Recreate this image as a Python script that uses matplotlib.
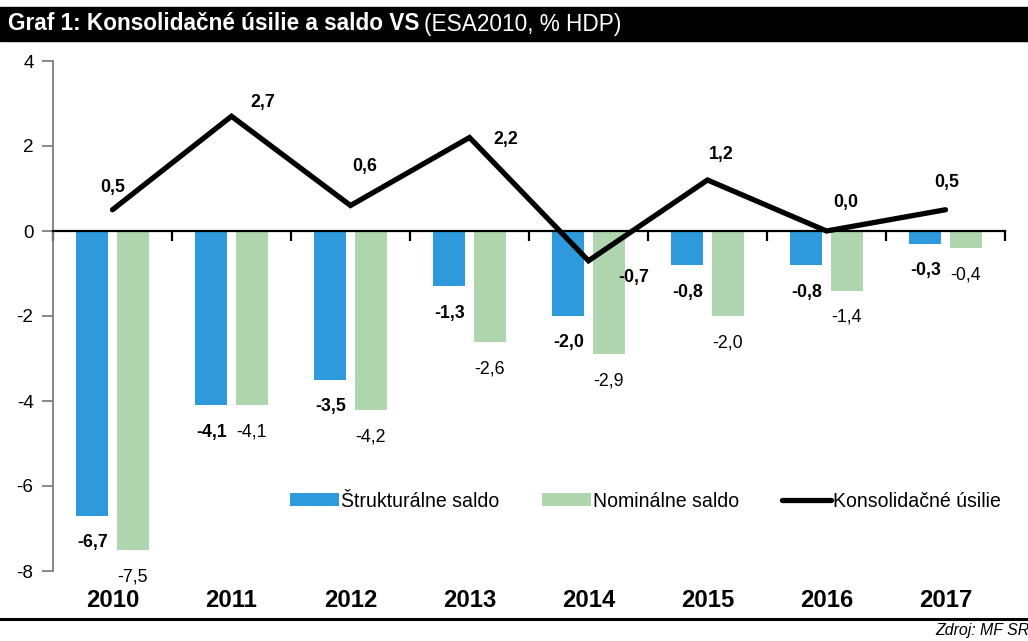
import numpy as np
import matplotlib
matplotlib.use('Agg')
from matplotlib import pyplot as plt
from matplotlib import font_manager
from matplotlib.patches import Rectangle
import matplotlib.transforms as mtransforms

years = ['2010', '2011', '2012', '2013', '2014', '2015', '2016', '2017']
strukturalne = [-6.7, -4.1, -3.5, -1.3, -2.0, -0.8, -0.8, -0.3]
nominalne = [-7.5, -4.1, -4.2, -2.6, -2.9, -2.0, -1.4, -0.4]
konsolidacne = [0.5, 2.7, 0.6, 2.2, -0.7, 1.2, 0.0, 0.5]

# label offsets for the line values (pixels, x right / y up)
line_lbl_off = [(0, 22), (31, 14), (14, 39), (36, -2), (45, -17), (14, 25), (19, 28), (1, 27)]

names = {f.name for f in font_manager.fontManager.ttflist}
narrow = 'Liberation Sans Narrow' in names
fam = 'Liberation Sans Narrow' if narrow else 'Liberation Sans'
plt.rcParams['font.family'] = fam
plt.rcParams['axes.unicode_minus'] = False
k = 1.0 if narrow else 0.88   # shrink a bit when no narrow font

blue = '#2E9ADC'
green = '#B0D6B0'

fig = plt.figure(figsize=(10.28, 6.41), dpi=100)
ax = fig.add_axes([53/1028, 1-571/641, 952/1028, 510/641])

x = np.arange(len(years))
w = 0.27
off = 0.17
b1 = ax.bar(x-off, strukturalne, w, color=blue, label='Štrukturálne saldo', zorder=2)
b2 = ax.bar(x+off, nominalne, w, color=green, label='Nominálne saldo', zorder=2)
l1, = ax.plot(x, konsolidacne, color='black', lw=3.8, solid_capstyle='round',
              solid_joinstyle='miter', label='Konsolidačné úsilie', zorder=4)

fmt = lambda v: f'{v:.1f}'.replace('.', ',')
for i in range(len(years)):
    ax.annotate(fmt(strukturalne[i]), (x[i]-off, strukturalne[i]), xytext=(0, -27),
                textcoords='offset pixels', ha='center', va='center',
                fontsize=14.5*k, fontweight='bold')
    ax.annotate(fmt(nominalne[i]), (x[i]+off, nominalne[i]), xytext=(0, -27),
                textcoords='offset pixels', ha='center', va='center', fontsize=14.5*k)
    ax.annotate(fmt(konsolidacne[i]), (x[i], konsolidacne[i]), xytext=line_lbl_off[i],
                textcoords='offset pixels', ha='center', va='center',
                fontsize=14.5*k, fontweight='bold')

ax.set_xlim(-0.5, len(years)-0.5)
ax.set_ylim(-8, 4)
ax.set_yticks(np.arange(-8, 5, 2))
ax.tick_params(axis='y', colors='#7F7F7F', length=8, width=1.3, labelsize=15.5*k,
               labelcolor='black', pad=6)
ax.spines['left'].set_color('#7F7F7F')
ax.spines['left'].set_linewidth(1.3)
ax.spines['top'].set_visible(False)
ax.spines['right'].set_visible(False)
ax.spines['bottom'].set_position(('data', 0))
ax.spines['bottom'].set_linewidth(1.6)
ax.spines['bottom'].set_zorder(3)
ax.set_xticks(np.arange(-0.5, len(years), 1))
ax.set_xticklabels([])
ax.tick_params(axis='x', length=7, width=1.6, color='black', direction='out')

trans = mtransforms.blended_transform_factory(ax.transData, ax.transAxes)
for i, y in enumerate(years):
    ax.text(x[i], -0.058, y, transform=trans, ha='center', va='center',
            fontsize=19.5*k, fontweight='bold')

leg = ax.legend([b1, b2, l1], ['Štrukturálne saldo', 'Nominálne saldo', 'Konsolidačné úsilie'],
                loc='center left', bbox_to_anchor=(0.249, 0.137), ncol=3, frameon=False,
                fontsize=16*k, handlelength=2.5, handleheight=0.65, handletextpad=0.1,
                columnspacing=2.2, borderpad=0, borderaxespad=0)

# title bar
fig.patches.append(Rectangle((0, 1-41/641), 1, 34/641, transform=fig.transFigure,
                             color='black', zorder=0))
t1 = fig.text(8/1028, 1-24/641, 'Graf 1: Konsolidačné úsilie a saldo VS', color='white',
              fontsize=18.5*k, fontweight='bold', va='center', ha='left')
fig.canvas.draw()
bb = t1.get_window_extent()
fig.text((bb.x1+5)/1028, 1-24/641, '(ESA2010, % HDP)', color='white',
         fontsize=18.5*k, va='center', ha='left')

# bottom rule and source
fig.add_artist(plt.Line2D([0, 1], [1-619/641, 1-619/641], color='black', lw=2.2,
                          transform=fig.transFigure))
fig.text(1030/1028, 1-631/641, 'Zdroj: MF SR', fontsize=13*k, style='italic',
         ha='right', va='center')

fig.savefig('out.png', dpi=100)
